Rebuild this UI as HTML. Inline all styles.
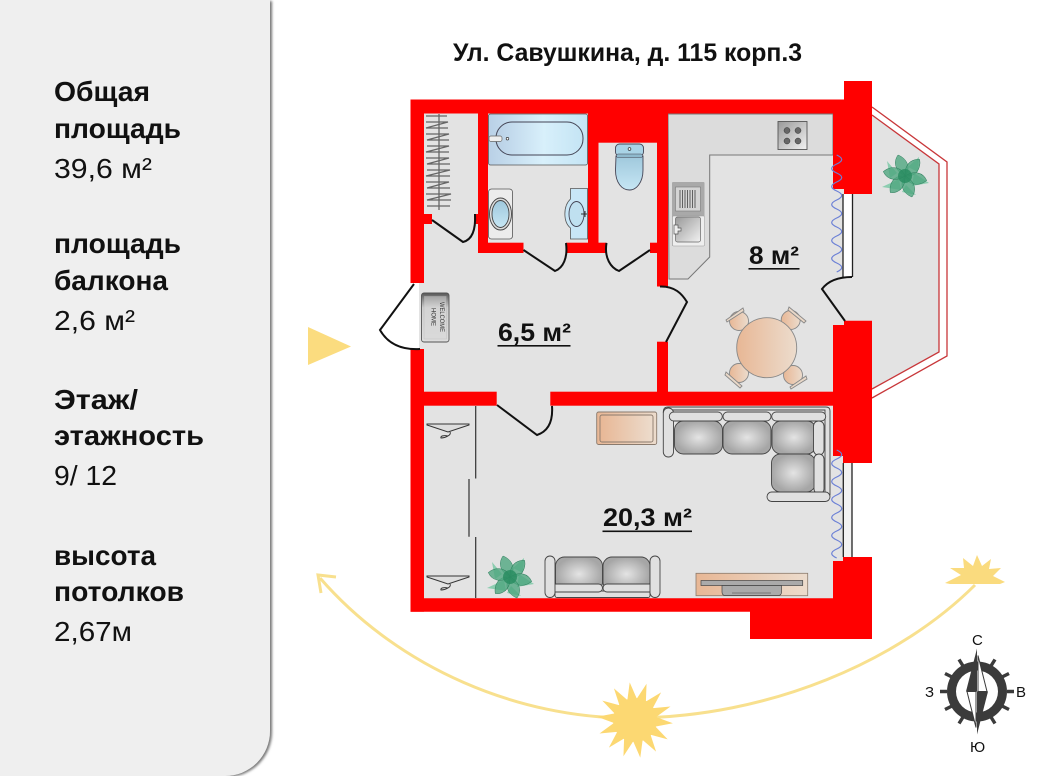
<!DOCTYPE html>
<html><head><meta charset="utf-8">
<style>
html,body{margin:0;padding:0;background:#fff;width:1054px;height:776px;overflow:hidden}
svg{display:block}
text{font-family:"Liberation Sans",sans-serif;fill:#111}
.b{font-weight:bold;font-size:28px}
.r{font-size:28px}
.a{font-weight:bold;font-size:25px}
</style></head><body>
<svg width="1054" height="776" viewBox="0 0 1054 776" xmlns="http://www.w3.org/2000/svg">
<defs>
<linearGradient id="peach" x1="0" x2="1" y1="0" y2="0"><stop offset="0" stop-color="#e8b795"/><stop offset="1" stop-color="#ecdccd"/></linearGradient>
<linearGradient id="blue" x1="0" x2="1" y1="0" y2="0"><stop offset="0" stop-color="#b9d0e6"/><stop offset=".55" stop-color="#d8f0fb"/><stop offset="1" stop-color="#c4e4f4"/></linearGradient>
<linearGradient id="blue2" x1="0" x2="0" y1="0" y2="1"><stop offset="0" stop-color="#9fc8dc"/><stop offset="1" stop-color="#c6e6f4"/></linearGradient>
<radialGradient id="cush"><stop offset="0" stop-color="#e4e4e4"/><stop offset="1" stop-color="#a6a6a6"/></radialGradient>
<linearGradient id="mat" x1="0" x2="0" y1="0" y2="1"><stop offset="0" stop-color="#555"/><stop offset=".3" stop-color="#cfcfcf"/><stop offset="1" stop-color="#dedede"/></linearGradient>
<linearGradient id="steel" x1="0" x2="1" y1="0" y2="1"><stop offset="0" stop-color="#999"/><stop offset="1" stop-color="#f2f2f2"/></linearGradient>
<filter id="sh" x="-10%" y="-10%" width="120%" height="120%"><feDropShadow dx="2" dy="1" stdDeviation="1.2" flood-color="#777"/></filter>
<g id="plant">
<path d="M-23,11 L-6,3 L-4,14Z M24,7 L9,-3 L7,10Z M14,-19 L3,-9 L13,-4Z M-18,-15 L-8,-3 L-15,2Z M11,19 L1,9 L-3,16Z" fill="#8ccdb0"/>
<g fill="#4fa67f" fill-opacity=".8" stroke="#2e7d5c" stroke-width=".5">
<path d="M0,0 C-10,-5 -12,-14 -7,-21 C1,-18 7,-9 0,0Z"/>
<path d="M0,0 C-10,-5 -12,-14 -7,-21 C1,-18 7,-9 0,0Z" transform="rotate(60)"/>
<path d="M0,0 C-10,-5 -12,-14 -7,-21 C1,-18 7,-9 0,0Z" transform="rotate(120)"/>
<path d="M0,0 C-10,-5 -12,-14 -7,-21 C1,-18 7,-9 0,0Z" transform="rotate(180)"/>
<path d="M0,0 C-10,-5 -12,-14 -7,-21 C1,-18 7,-9 0,0Z" transform="rotate(240)"/>
<path d="M0,0 C-10,-5 -12,-14 -7,-21 C1,-18 7,-9 0,0Z" transform="rotate(300)"/>
</g>
<circle r="7" fill="#2a8d62" fill-opacity=".85"/>
</g>
<g id="hanger" fill="none" stroke="#333" stroke-width="1"><path d="M427,-1 L469,-1 L469,0 L448,7 L427,0Z" fill="#ddd"/><path d="M450,7 C452,10 445,13 441,13 C440,11 444,10 448,11"/></g>
<polygon id="tip" points="0,-38 -5,-20 5,-20" fill="#fcd872"/>
</defs>

<!-- left panel -->
<path d="M0,0 H270 V731 A45,45 0 0 1 225,776 H0Z" fill="#efefef" filter="url(#sh)"/>
<text x="54" y="101" class="b" textLength="96" lengthAdjust="spacingAndGlyphs">Общая</text>
<text x="54" y="138" class="b" textLength="127" lengthAdjust="spacingAndGlyphs">площадь</text>
<text x="54" y="178" class="r" textLength="98" lengthAdjust="spacingAndGlyphs">39,6 м²</text>
<text x="54" y="253" class="b" textLength="127" lengthAdjust="spacingAndGlyphs">площадь</text>
<text x="54" y="290" class="b" textLength="114" lengthAdjust="spacingAndGlyphs">балкона</text>
<text x="54" y="330" class="r" textLength="81" lengthAdjust="spacingAndGlyphs">2,6 м²</text>
<text x="54" y="409" class="b" textLength="84" lengthAdjust="spacingAndGlyphs">Этаж/</text>
<text x="54" y="445" class="b" textLength="150" lengthAdjust="spacingAndGlyphs">этажность</text>
<text x="54" y="485" class="r" textLength="63" lengthAdjust="spacingAndGlyphs">9/ 12</text>
<text x="54" y="565" class="b" textLength="102" lengthAdjust="spacingAndGlyphs">высота</text>
<text x="54" y="601" class="b" textLength="130" lengthAdjust="spacingAndGlyphs">потолков</text>
<text x="54" y="641" class="r" textLength="78" lengthAdjust="spacingAndGlyphs">2,67м</text>

<text x="453" y="61" textLength="349" lengthAdjust="spacingAndGlyphs" style="font-weight:bold;font-size:25px">Ул. Савушкина, д. 115 корп.3</text>

<!-- entry arrow -->
<polygon points="308,327 351,346.5 308,365" fill="#fbdc7f"/>

<!-- balcony -->
<polygon points="872,115 939,164 939,352 872,389" fill="#e3e3e3"/>
<polyline points="872,107 947,162 947,356 872,398" fill="none" stroke="#c8373a" stroke-width="1.3"/>
<polyline points="872,115 939,164 939,352 872,389" fill="none" stroke="#c8373a" stroke-width="1.3"/>

<!-- floors -->
<rect x="412" y="101" width="440" height="509" fill="#e3e3e3"/>
<rect x="410" y="283" width="9" height="66" fill="#fff"/>
<rect x="843" y="194" width="9" height="83" fill="#fff"/>
<rect x="843" y="463" width="9" height="94" fill="#f2f2f2"/>
<rect x="852" y="194" width="20" height="127" fill="#e3e3e3"/>
<rect x="852" y="463" width="20" height="94" fill="#fff"/>
<rect x="844" y="277" width="28" height="44" fill="#e3e3e3"/>

<!-- kitchen counter -->
<polygon points="668,114 833,114 833,155 709.7,155 709.7,257 688,279 669,279" fill="#dcdcdc" stroke="#777" stroke-width="1"/>

<!-- walls -->
<g fill="#ff0000">
<rect x="410.5" y="99.5" width="433.5" height="14"/>
<rect x="478" y="99.5" width="190" height="14"/>
<rect x="588" y="113" width="69" height="29.7"/>
<rect x="410.5" y="99.5" width="13.5" height="183.5"/>
<rect x="410.5" y="349" width="13.5" height="262.7"/>
<rect x="478" y="113" width="10" height="140"/>
<rect x="588" y="113" width="10.5" height="135"/>
<rect x="657" y="113" width="11" height="173.5"/>
<rect x="657" y="341.7" width="11" height="55"/>
<rect x="424" y="214" width="8" height="10"/>
<rect x="474" y="214" width="4" height="10"/>
<rect x="478" y="242.7" width="45.5" height="10.3"/>
<rect x="566" y="242.7" width="40.7" height="10.3"/>
<rect x="650" y="242.7" width="7" height="10.3"/>
<rect x="410.5" y="391.7" width="86.2" height="14"/>
<rect x="550.3" y="391.7" width="293" height="14"/>
<polygon points="844,81 872,81 872,194 844,194 844,189 833,189 833,99.5 844,99.5"/>
<polygon points="844,320.7 872,320.7 872,463 843,463 843,456 833,456 833,325 844,325"/>
<polygon points="833,561 843,561 843,557 872,557 872,639 750,639 750,611.7 410.5,611.7 410.5,598.3 833,598.3"/>
</g>

<!-- windows -->
<g stroke="#222" stroke-width="1.3" fill="none">
<path d="M843,194V277M852.5,194V277"/>
<path d="M843.3,463V557M852,463V557"/>
</g>

<!-- doors -->
<g fill="none" stroke="#111" stroke-width="2">
<path d="M432,220 L463,242 C471,240 476,232 475,214"/>
<path d="M523.5,250 L555,271 C563,268 568,258 566,243"/>
<path d="M650,250 L619,271 C611,268 604,258 606.5,243"/>
<path d="M414,284 L380,330 C388,344 402,350 420,349"/>
<path d="M660,286.5 C675,286 682,294 687,302 L666,342"/>
<path d="M852,277 C838,277 828,281 822,289 L845,321"/>
<path d="M497,405 L537,435 C549,431 553,420 552,406"/>
</g>

<!-- closet rail + hangers -->
<path d="M439,114V210" stroke="#666" stroke-width="1.3"/>
<path d="M426,116H447 M426,122H448 L426,128H448 M426,134H449 L427,140H449 M427,146H449 L426,152H449 M426,158H449 L427,164H450 M427,170H450 L426,176H450 M426,182H449 L427,188H450 M426,194H451 L427,200H451 M427,206H450" fill="none" stroke="#666" stroke-width="1.2"/>

<!-- bath -->
<rect x="488.5" y="114" width="99" height="51" rx="2" fill="url(#blue)" stroke="#555" stroke-width=".8"/>
<rect x="496" y="122" width="87" height="33" rx="16" fill="url(#blue)" stroke="#445" stroke-width="1"/>
<rect x="489" y="136" width="13" height="5.5" rx="2" fill="#eee" stroke="#666" stroke-width=".7"/>
<circle cx="507.5" cy="138.7" r="1.3" fill="#fff" stroke="#333" stroke-width=".7"/>
<!-- left sink -->
<rect x="488.5" y="189" width="24" height="50" rx="3" fill="#ececec" stroke="#555" stroke-width=".8"/>
<ellipse cx="500.5" cy="214" rx="11" ry="16" fill="#ddd" stroke="#444" stroke-width=".9"/>
<ellipse cx="500.5" cy="214" rx="8.5" ry="13.5" fill="url(#blue2)" stroke="#444" stroke-width=".9"/>
<!-- right sink -->
<path d="M570.5,188.5 H587.5 V239 H570.5 V228 C563,222 563,206 570.5,199Z" fill="#c8e6f6" stroke="#555" stroke-width=".8"/>
<ellipse cx="576.5" cy="214" rx="7.5" ry="12.5" fill="#bfe0f0" stroke="#445" stroke-width=".9"/>
<path d="M581,214H587M585,211V217" stroke="#333" stroke-width="1"/>
<!-- toilet -->
<path d="M616,156 H643 V170 C643,183 636,190 629.5,190 C622,190 615.5,183 615.5,170Z" fill="url(#blue2)" stroke="#445" stroke-width=".9"/>
<rect x="615.5" y="144" width="28" height="12" rx="4" fill="#a9d3e6" stroke="#445" stroke-width=".9"/>
<rect x="616.5" y="154" width="26" height="3.5" rx="1.5" fill="#8fb9cd" stroke="#445" stroke-width=".5"/>
<circle cx="629.5" cy="149" r="1.4" fill="#fff" stroke="#333" stroke-width=".7"/>

<!-- stove -->
<rect x="778" y="121.5" width="29" height="28" fill="url(#steel)" stroke="#555" stroke-width=".9"/>
<g fill="#666" stroke="#333" stroke-width=".5"><circle cx="787" cy="130.5" r="3"/><circle cx="798" cy="130.5" r="3"/><circle cx="787" cy="141" r="3"/><circle cx="798" cy="141" r="3"/></g>
<!-- kitchen sink -->
<rect x="672" y="182" width="32.5" height="64" rx="1" fill="#a9a9a9"/>
<rect x="672.5" y="216" width="32" height="30" rx="1" fill="#eee" stroke="#999" stroke-width=".5"/>
<rect x="675.5" y="187" width="25" height="24" fill="#d4d4d4" stroke="#777" stroke-width=".6"/>
<path d="M680,190V208M682.5,190V208M685,190V208M687.5,190V208M690,190V208M692.5,190V208M695,190V208" stroke="#555" stroke-width=".9"/>
<rect x="675.5" y="217" width="25" height="25" rx="2" fill="url(#steel)" stroke="#666" stroke-width=".7"/>
<path d="M674,225h4v3h3v3h-3v3h-4z" fill="#eee" stroke="#555" stroke-width=".7"/>

<!-- curtains -->
<g fill="none" stroke="#6b80d6" stroke-width="1.2">
<path d="M836.7,155 q10,4.5 0,9 t0,9 t0,9 t0,9 t0,9 t0,9 t0,9 t0,9 t0,9 t0,9 t0,9 t0,9 t0,9"/>
<path d="M836.7,450 q10,4.5 0,9 t0,9 t0,9 t0,9 t0,9 t0,9 t0,9 t0,9 t0,9 t0,9 t0,9 t0,9"/>
</g>

<!-- table -->
<g stroke="#888" stroke-width=".9" fill="url(#peach)">
<circle cx="739" cy="321" r="9.5"/><circle cx="790.7" cy="320" r="9.5"/><circle cx="739" cy="373" r="9.5"/><circle cx="793" cy="375" r="9.5"/>
<path d="M726,320 L743,308 L744,311 L727,322Z" fill="#e9d8c8"/>
<path d="M789,307 L806,321 L804,323 L788,310Z" fill="#e9d8c8"/>
<path d="M726,372 L742,386 L740,388 L725,375Z" fill="#e9d8c8"/>
<path d="M790,387 L806,376 L807,379 L791,389Z" fill="#e9d8c8"/>
<circle cx="766.7" cy="347.7" r="30"/>
</g>

<!-- mat -->
<rect x="421.5" y="293" width="27.5" height="49" rx="2.5" fill="url(#mat)" stroke="#555" stroke-width=".9"/>
<rect x="424" y="296" width="22.5" height="43" fill="#d8d8d8" stroke="#888" stroke-width=".3" opacity=".5"/>
<text transform="translate(440,302) rotate(90)" style="font-size:6px;fill:#333" textLength="30" lengthAdjust="spacingAndGlyphs">WELCOME</text>
<text transform="translate(431.5,308) rotate(90)" style="font-size:6px;fill:#333" textLength="18" lengthAdjust="spacingAndGlyphs">HOME</text>

<!-- wardrobe -->
<path d="M475.7,406V478.5 M469,479V536.7 M475.7,537V598" stroke="#333" stroke-width="1.2" fill="none"/>
<use href="#hanger" y="425"/>
<use href="#hanger" y="577"/>

<!-- rug -->
<rect x="596.7" y="412" width="60" height="32.5" rx="2" fill="url(#peach)" stroke="#8a7a6d" stroke-width=".9"/>
<rect x="600" y="415" width="53" height="27" rx="2" fill="url(#peach)" stroke="#8a7a6d" stroke-width=".9"/>

<!-- top sofa -->
<g stroke="#444" stroke-width=".9">
<path d="M663.3,412 Q663.3,407 668,407 H826 Q830,407 830,411 V495 H825 V410 H668 Z" fill="#e0e0e0"/>
<rect x="663.3" y="408" width="10.2" height="49" rx="5" fill="#e0e0e0"/>
<rect x="674.5" y="421" width="48" height="33" rx="9" fill="url(#cush)"/>
<rect x="723" y="421" width="48" height="33" rx="9" fill="url(#cush)"/>
<rect x="772" y="421" width="44" height="33" rx="9" fill="url(#cush)"/>
<rect x="771.5" y="454" width="44" height="38" rx="9" fill="url(#cush)"/>
<rect x="669.3" y="412" width="53" height="9" rx="4.5" fill="#e0e0e0"/>
<rect x="723" y="412" width="48" height="9" rx="4.5" fill="#e0e0e0"/>
<rect x="771.7" y="412" width="54" height="9" rx="4.5" fill="#e0e0e0"/>
<rect x="813.5" y="421" width="10.5" height="34" rx="5" fill="#e0e0e0"/>
<rect x="814" y="454" width="10" height="40" rx="5" fill="#e0e0e0"/>
<rect x="767" y="492" width="63" height="9.5" rx="4.7" fill="#e0e0e0"/>
</g>

<!-- bottom sofa -->
<g stroke="#444" stroke-width=".9">
<rect x="555" y="591" width="95" height="6.5" rx="2" fill="#e0e0e0"/>
<rect x="555.5" y="557" width="47" height="34" rx="9" fill="url(#cush)"/>
<rect x="603" y="557" width="47" height="34" rx="9" fill="url(#cush)"/>
<rect x="550.5" y="584" width="52" height="8" rx="4" fill="#e0e0e0"/>
<rect x="603" y="584" width="52" height="8" rx="4" fill="#e0e0e0"/>
<rect x="545" y="556" width="10" height="41.5" rx="5" fill="#e0e0e0"/>
<rect x="650" y="556" width="10" height="41.5" rx="5" fill="#e0e0e0"/>
</g>

<!-- TV -->
<rect x="696" y="573.3" width="111.7" height="22.4" fill="url(#peach)" stroke="#8a7a6d" stroke-width=".8"/>
<rect x="701" y="580.5" width="101.7" height="5" fill="#aaa" stroke="#444" stroke-width=".7"/>
<path d="M722,585.5 H781.5 V592 Q781.5,595.5 778,595.5 H725.5 Q722,595.5 722,592Z" fill="#aaa" stroke="#444" stroke-width=".7"/>
<path d="M732,593H771" stroke="#666" stroke-width=".7"/>

<!-- plants -->
<use href="#plant" x="905" y="176"/>
<use href="#plant" x="510" y="577"/>

<!-- area labels -->
<text x="498" y="341" class="a" textLength="73" lengthAdjust="spacingAndGlyphs">6,5 м²</text>
<rect x="497.5" y="345" width="73" height="1.6" fill="#111"/>
<text x="749" y="264" class="a" textLength="50" lengthAdjust="spacingAndGlyphs">8 м²</text>
<rect x="748.5" y="268" width="51" height="1.6" fill="#111"/>
<text x="603" y="526" class="a" textLength="89" lengthAdjust="spacingAndGlyphs">20,3 м²</text>
<rect x="602.5" y="530.5" width="89.5" height="1.6" fill="#111"/>

<!-- sun path -->
<path d="M320,578 C400,670 520,718 630,718 C770,718 900,660 975,585" fill="none" stroke="#f8e08e" stroke-width="3"/>
<path d="M336,577 L318,575 L321,593" fill="none" stroke="#f8e08e" stroke-width="3"/>
<g transform="translate(635,720)">
<circle r="22" fill="#fcd872"/>
<use href="#tip" transform="rotate(-8)"/><use href="#tip" transform="rotate(17.7)"/><use href="#tip" transform="rotate(43.4)"/><use href="#tip" transform="rotate(69.1)"/><use href="#tip" transform="rotate(94.9)"/><use href="#tip" transform="rotate(120.6)"/><use href="#tip" transform="rotate(146.3)"/><use href="#tip" transform="rotate(172)"/><use href="#tip" transform="rotate(197.7)"/><use href="#tip" transform="rotate(223.4)"/><use href="#tip" transform="rotate(249.1)"/><use href="#tip" transform="rotate(274.9)"/><use href="#tip" transform="rotate(300.6)"/><use href="#tip" transform="rotate(326.3)"/>
</g>
<polygon fill="#fadb7e" points="945,583 961,575 950,568 964,568 963,558 973,566 977,555 982,566 991,559 989,569 1001,568 993,576 1005,582 1000,584 950,584"/>

<!-- compass -->
<g transform="translate(977,691.5)">
<g stroke="#3b3b3b" stroke-width="3.4"><path d="M-37,0H-30M30,0H37M-32,-18L-24,-14M32,-18L24,-14M-32,18L-24,14M32,18L24,14M-18,-32L-13,-24M18,-32L13,-24M-18,32L-13,24M18,32L13,24"/></g>
<path fill-rule="evenodd" fill="#3b3b3b" d="M-30,0 A30,30 0 1 1 30,0 A30,30 0 1 1 -30,0Z M-21,0 A21,21 0 1 0 21,0 A21,21 0 1 0 -21,0Z"/>
<polygon points="0,-43 -11,0 0,0" fill="#3b3b3b"/>
<polygon points="1,-36 10,0 1,0" fill="#fff" stroke="#3b3b3b" stroke-width="1"/>
<polygon points="0,43 11,0 0,0" fill="#3b3b3b"/>
<polygon points="-1,36 -10,0 -1,0" fill="#fff" stroke="#3b3b3b" stroke-width="1"/>
</g>
<text x="972" y="645" style="font-size:15px">С</text>
<text x="1016" y="697" style="font-size:15px">В</text>
<text x="925" y="697" style="font-size:15px">З</text>
<text x="970" y="752" style="font-size:15px">Ю</text>
</svg>
</body></html>
